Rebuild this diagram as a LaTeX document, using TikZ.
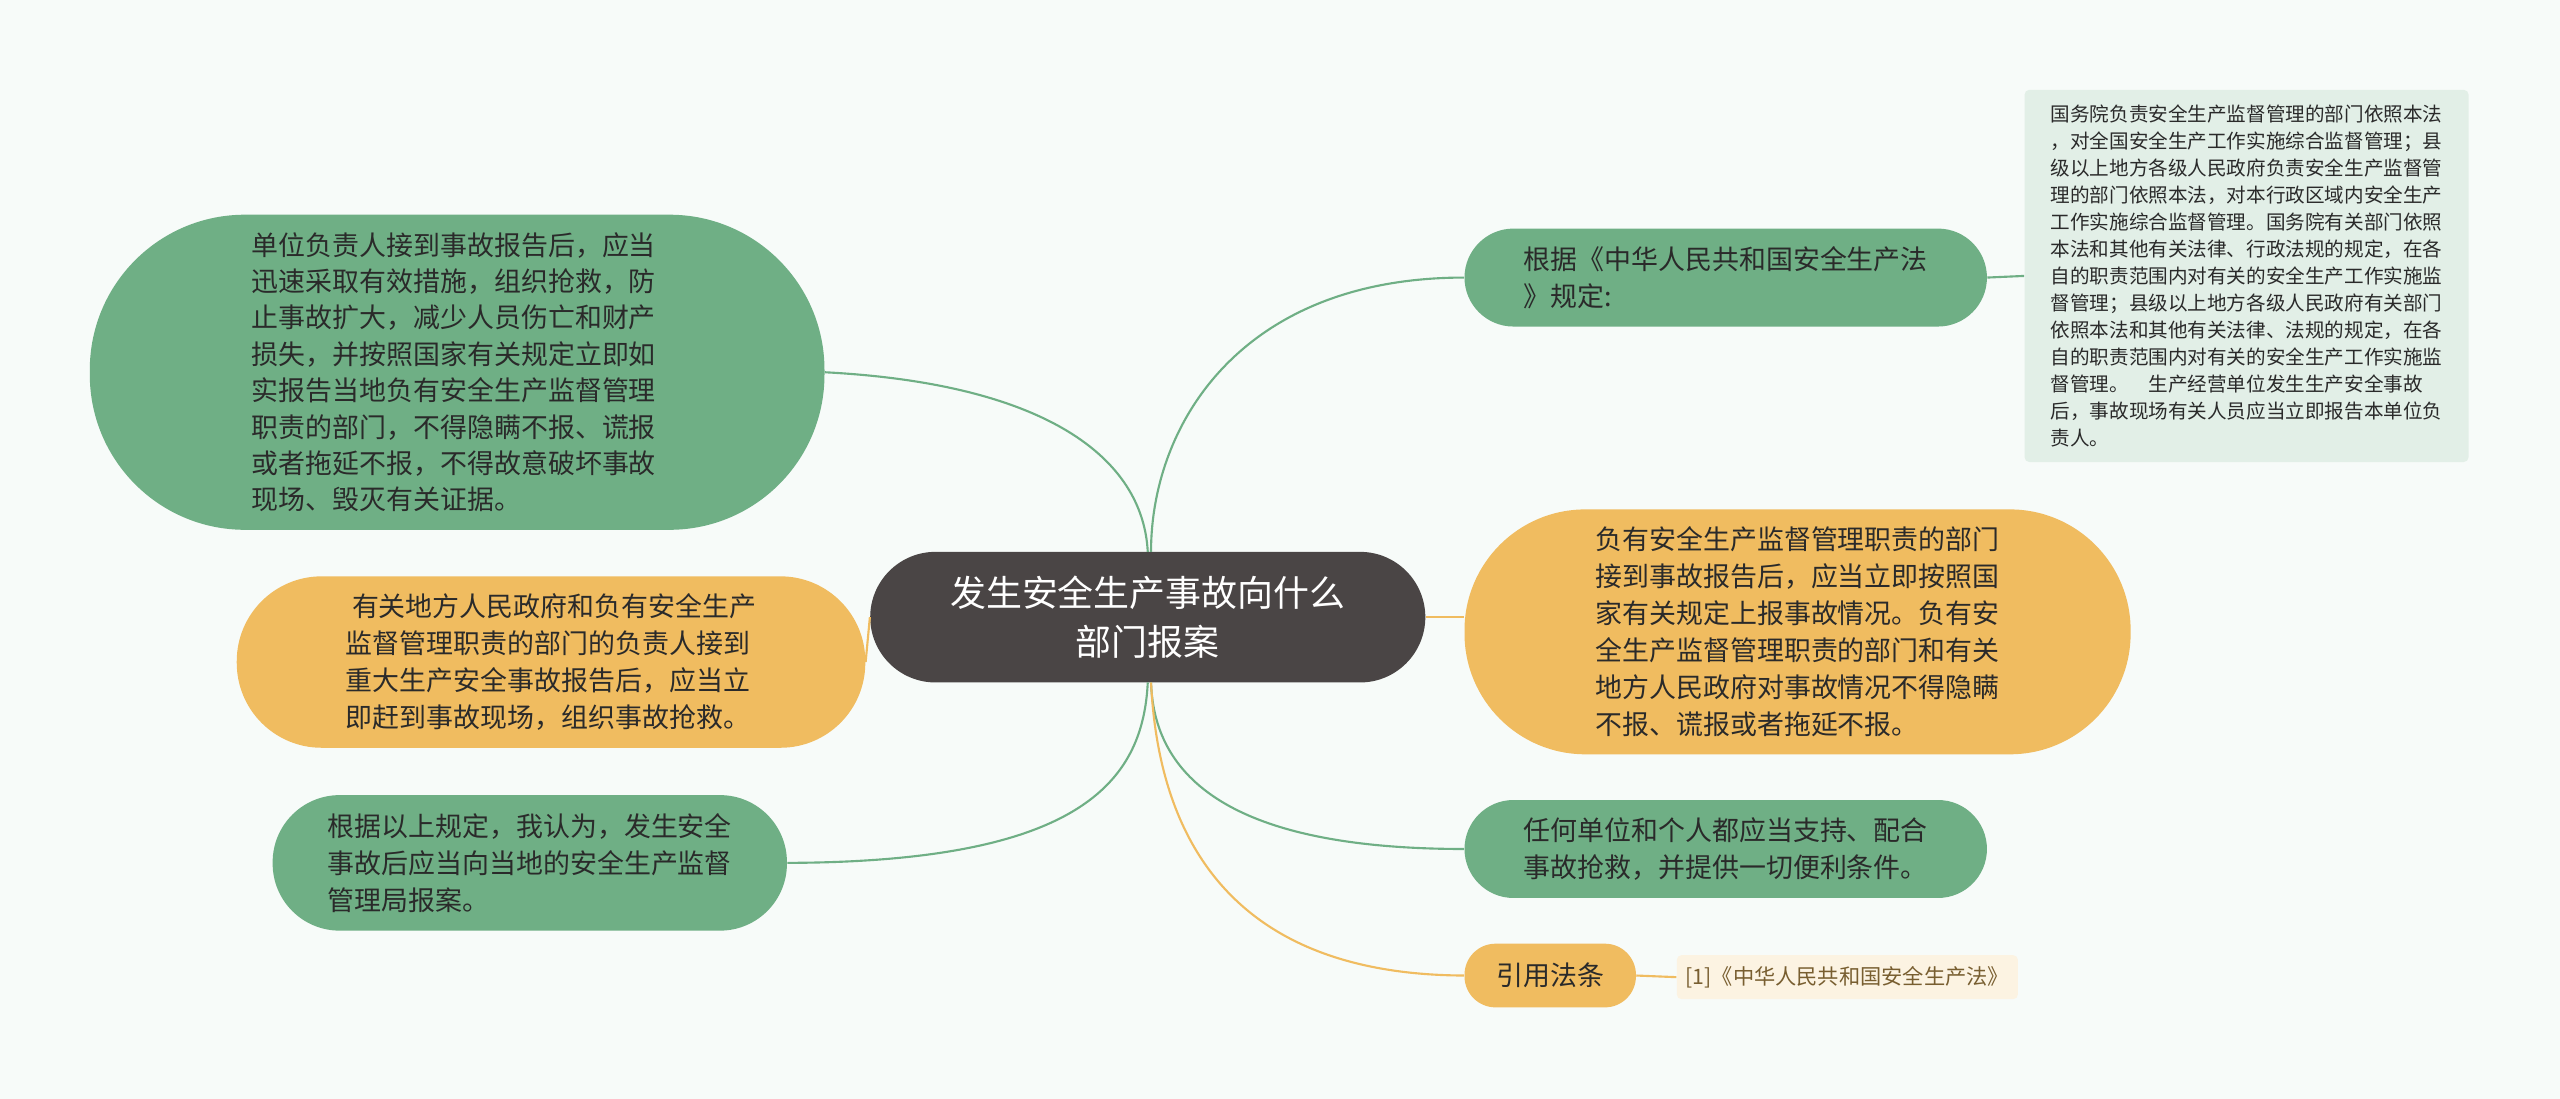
\documentclass[tikz,border=0pt]{standalone}
\usepackage{fontspec}
\setmainfont{Noto Sans CJK SC}
\begin{document}
\begin{tikzpicture}[x=1pt,y=-1pt,
  green/.style={fill=gfill,text=txt,font=\fontsize{16.5}{22.6}\selectfont,align=left,inner sep=0},
  orange/.style={fill=ofill,text=txt,font=\fontsize{16.5}{22.6}\selectfont,align=left,inner sep=0},
  gl/.style={draw=gfill,line width=1.3pt},
  ol/.style={draw=ofill,line width=1.3pt}]
\definecolor{gfill}{HTML}{6FAF85}
\definecolor{ofill}{HTML}{F0BC60}
\definecolor{txt}{HTML}{2A2A2A}
\definecolor{bg}{HTML}{F7FBF9}
\definecolor{dark}{HTML}{4A4545}
\fill[bg] (0,0) rectangle (1568,673);
\useasboundingbox (0,0) rectangle (1568,673);
% center
\node[fill=dark,text=white,rounded corners=40pt,minimum width=340pt,minimum height=80pt,align=center,inner sep=0,font=\fontsize{22}{30}\selectfont] (c) at (703,378) {发生安全生产事故向什么\\部门报案};
% left
\node[green,rounded corners=95pt,minimum width=450pt,minimum height=193pt] (l1) at (280,228) {};
\node[text=txt,font=\fontsize{16.5}{22.3}\selectfont,align=left,inner sep=0] at (278,228) {单位负责人接到事故报告后，应当\\迅速采取有效措施，组织抢救，防\\止事故扩大，减少人员伤亡和财产\\损失，并按照国家有关规定立即如\\实报告当地负有安全生产监督管理\\职责的部门，不得隐瞒不报、谎报\\或者拖延不报，不得故意破坏事故\\现场、毁灭有关证据。};
\node[orange,rounded corners=52pt,minimum width=385pt,minimum height=105pt] (l2) at (337.5,405.5) {\ 有关地方人民政府和负有安全生产\\监督管理职责的部门的负责人接到\\重大生产安全事故报告后，应当立\\即赶到事故现场，组织事故抢救。};
\node[green,rounded corners=41pt,minimum width=315pt,minimum height=83pt] (l3) at (324.5,528.5) {根据以上规定，我认为，发生安全\\事故后应当向当地的安全生产监督\\管理局报案。};
% right
\node[green,rounded corners=30pt,minimum width=320pt,minimum height=60pt] (r1) at (1057,170) {根据《中华人民共和国安全生产法\\》规定:};
\node[fill=gfill!20,text=txt,rounded corners=3pt,minimum width=272pt,minimum height=228pt,font=\fontsize{12}{16.5}\selectfont,align=left,inner sep=0] (r1l) at (1376,169) {国务院负责安全生产监督管理的部门依照本法\\，对全国安全生产工作实施综合监督管理；县\\级以上地方各级人民政府负责安全生产监督管\\理的部门依照本法，对本行政区域内安全生产\\工作实施综合监督管理。国务院有关部门依照\\本法和其他有关法律、行政法规的规定，在各\\自的职责范围内对有关的安全生产工作实施监\\督管理；县级以上地方各级人民政府有关部门\\依照本法和其他有关法律、法规的规定，在各\\自的职责范围内对有关的安全生产工作实施监\\督管理。\quad 生产经营单位发生生产安全事故\\后，事故现场有关人员应当立即报告本单位负\\责人。};
\node[orange,rounded corners=74pt,minimum width=408pt,minimum height=150pt] (r2) at (1101,387) {负有安全生产监督管理职责的部门\\接到事故报告后，应当立即按照国\\家有关规定上报事故情况。负有安\\全生产监督管理职责的部门和有关\\地方人民政府对事故情况不得隐瞒\\不报、谎报或者拖延不报。};
\node[green,rounded corners=30pt,minimum width=320pt,minimum height=60pt] (r3) at (1057,520) {任何单位和个人都应当支持、配合\\事故抢救，并提供一切便利条件。};
\node[orange,rounded corners=19pt,minimum width=105pt,minimum height=39pt] (r4) at (949.5,597.5) {引用法条};
\node[fill=ofill!18,text=ofill!50!black,rounded corners=3pt,minimum width=209pt,minimum height=27pt,font=\fontsize{13}{15}\selectfont,inner sep=0] (r4l) at (1131.5,598.5) {[1]《中华人民共和国安全生产法》};
% connectors
\draw[gl] (l1.east) .. controls (640,235) and (700,280) .. (703,338);
\draw[ol] (l2.east) -- (c.west);
\draw[gl] (l3.east) .. controls (660,528) and (700,480) .. (703,418);
\draw[gl] (r1.west) .. controls (760,170) and (705,260) .. (705,338);
\draw[gl] (r1.east) -- (r1l.west);
\draw[ol] (c.east) -- (r2.west |- c.east);
\draw[gl] (r3.west) .. controls (760,520) and (707,480) .. (705,418);
\draw[ol] (r4.west) .. controls (760,597) and (710,520) .. (705,418);
\draw[ol] (r4.east) -- (r4l.west);
\end{tikzpicture}
\end{document}
